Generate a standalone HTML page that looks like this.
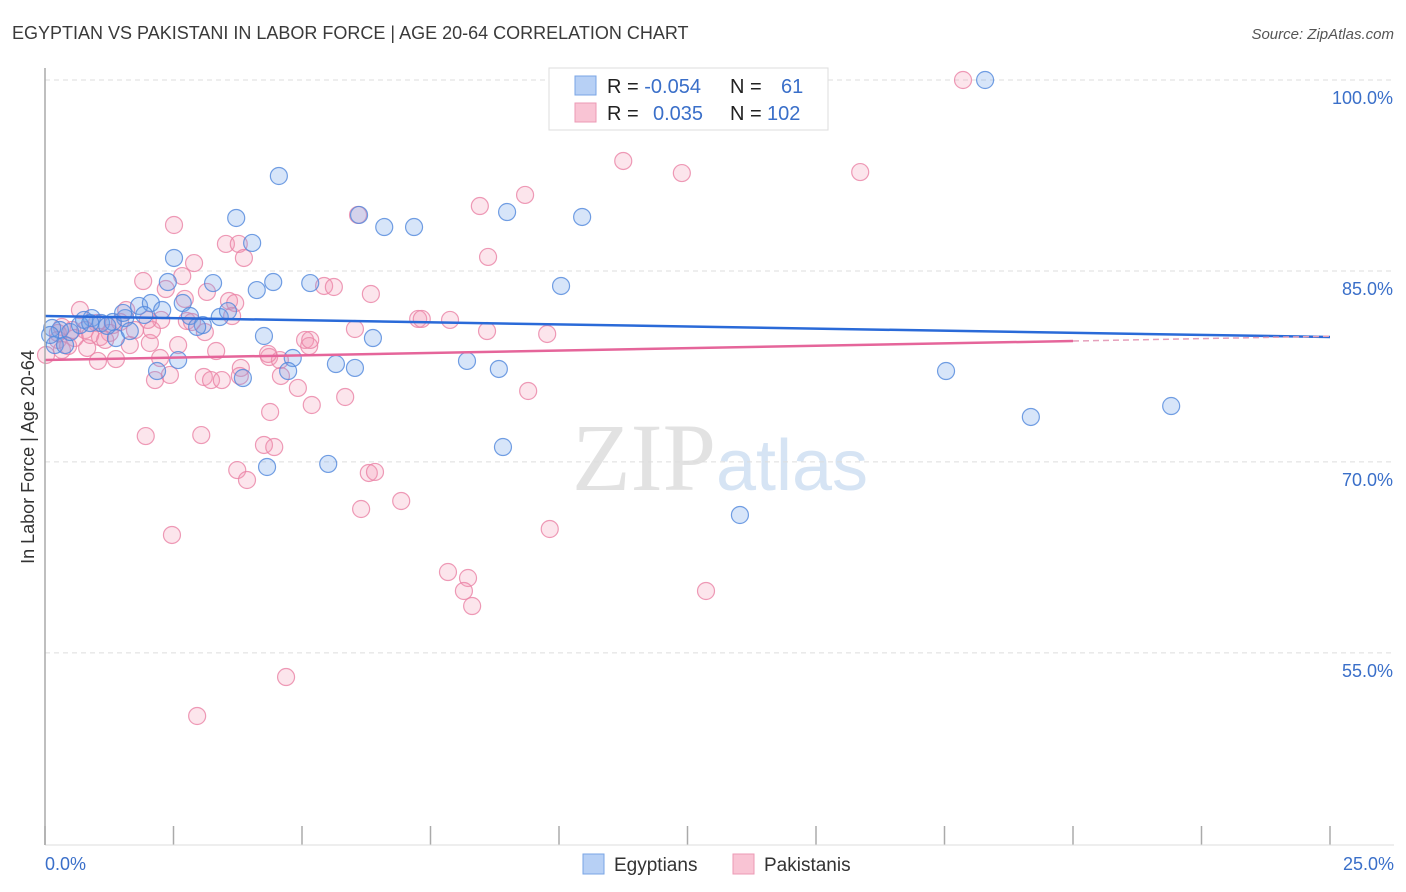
<!DOCTYPE html>
<html><head><meta charset="utf-8"><style>
body{margin:0;background:#fff;font-family:"Liberation Sans",sans-serif}
svg{display:block}
</style></head><body>
<svg id="c" width="1406" height="892" xmlns="http://www.w3.org/2000/svg">
<text x="12" y="39" font-size="18" fill="#3a3a3a">EGYPTIAN VS PAKISTANI IN LABOR FORCE | AGE 20-64 CORRELATION CHART</text>
<text x="1394" y="39" font-size="15" fill="#555" font-style="italic" text-anchor="end">Source: ZipAtlas.com</text>
<text x="720" y="490" font-size="96" fill="#e6e6e6" text-anchor="middle" font-family="Liberation Serif"><tspan fill="#e2e2e2">ZIP</tspan><tspan fill="#d6e4f4" font-family="Liberation Sans" font-size="72">atlas</tspan></text>
<g id="grid"></g>
<g id="pts"></g>
<g id="trend"></g>
<line x1="45" y1="68" x2="45" y2="845" stroke="#aaa" stroke-width="1.5"/>
<text transform="translate(34,457) rotate(-90)" font-size="18" fill="#333" text-anchor="middle">In Labor Force | Age 20-64</text>
<text x="45" y="870" font-size="18" fill="#3a6fc9">0.0%</text>
<text x="1394" y="870" font-size="18" fill="#3a6fc9" text-anchor="end">25.0%</text>
<g>
<rect x="549" y="68" width="279" height="62" fill="#fff" stroke="#ddd"/>
<rect x="575" y="76" width="21" height="19" fill="#b7d0f5" stroke="#7aa5e5"/>
<rect x="575" y="103" width="21" height="19" fill="#f9c4d4" stroke="#ec9ab5"/>
<text x="607" y="93" font-size="20" fill="#222">R = <tspan fill="#3a6fc9">-0.054</tspan><tspan x="730">N =</tspan><tspan x="781" fill="#3a6fc9">61</tspan></text>
<text x="607" y="120" font-size="20" fill="#222">R = <tspan x="653" fill="#3a6fc9">0.035</tspan><tspan x="730">N =</tspan><tspan x="767" fill="#3a6fc9">102</tspan></text>
</g>
<g>
<rect x="583" y="854" width="21" height="20" fill="#b7d0f5" stroke="#7aa5e5"/>
<text x="614" y="871" font-size="19" fill="#333">Egyptians</text>
<rect x="733" y="854" width="21" height="20" fill="#f9c4d4" stroke="#ec9ab5"/>
<text x="764" y="871" font-size="19" fill="#333">Pakistanis</text>
</g>
</svg>
<script>
const yTicks=[100,85,70,55];
const yTickLabels=["100.0%","85.0%","70.0%","55.0%"];
const xTicks=[0,2.5,5,7.5,10,12.5,15,17.5,20,22.5,25];
const egyX=[18.29,4.55,3.72,6.11,6.60,7.18,8.99,10.45,4.03,2.51,2.39,3.27,4.12,4.44,5.16,10.04,1.83,2.06,2.68,2.28,1.56,1.93,2.82,3.40,3.56,0.91,0.76,1.09,1.32,3.07,2.96,4.26,6.38,1.38,0.29,0.19,0.39,1.65,2.59,4.82,5.66,6.03,3.85,4.73,8.21,8.83,2.18,17.53,21.91,19.18,8.91,4.32,5.51,13.52,0.14,0.49,0.10,0.68,1.21,0.88,1.52];
const egyY=[100,92.46,89.16,89.40,88.45,88.45,89.63,89.24,87.20,86.02,84.13,84.05,83.50,84.13,84.05,83.82,82.25,82.48,82.48,81.93,81.30,81.54,81.46,81.38,81.85,81.30,81.15,80.91,80.99,80.75,80.60,79.89,79.73,79.73,80.36,79.18,79.18,80.28,78.00,78.16,77.69,77.38,76.59,77.14,77.93,77.30,77.14,77.14,74.39,73.53,71.17,69.60,69.84,65.83,80.52,80.20,79.97,80.75,80.68,80.91,81.70];
const pakX=[17.86,11.25,12.39,15.86,9.34,8.46,6.09,2.51,3.52,3.77,3.87,8.62,2.90,2.67,1.91,2.35,3.15,3.58,2.72,5.43,5.62,6.34,7.26,7.33,8.60,9.77,6.03,3.64,2.26,1.58,1.32,1.75,1.01,0.78,1.26,0.53,0.33,0.25,0.02,0.82,1.07,1.65,2.04,3.11,2.76,2.08,2.59,5.06,5.14,3.33,4.36,4.57,2.24,1.38,1.03,2.43,2.14,3.09,3.23,3.44,3.81,4.59,4.92,5.19,5.84,4.38,9.40,1.96,3.04,4.26,4.46,3.74,3.93,6.30,6.42,6.93,6.15,9.82,2.47,7.84,8.23,8.15,8.31,12.86,4.69,2.96,0.68,3.79,2.00,2.86,4.34,0.25,0.58,0.45,1.46,0.88,1.17,0.33,5.16,3.70,7.88];
const pakY=[100,93.64,92.69,92.77,90.97,90.10,89.40,88.61,87.12,87.12,86.02,86.10,85.62,84.60,84.21,83.58,83.35,82.64,82.80,83.82,83.74,83.19,81.23,81.23,80.28,80.05,80.44,81.46,81.15,81.93,80.75,80.36,80.91,80.36,80.13,80.36,80.60,79.58,78.40,78.95,79.81,79.18,79.34,80.20,81.07,80.36,79.18,79.58,79.10,78.71,78.24,78.00,78.16,78.08,77.93,76.83,76.43,76.67,76.43,76.43,77.38,76.75,75.81,74.47,75.10,73.92,75.57,72.03,72.11,71.33,71.17,69.36,68.58,69.13,69.21,66.93,66.30,64.73,64.26,61.35,60.88,59.86,58.68,59.86,53.10,50.04,81.93,76.75,81.15,80.99,78.48,80.13,79.73,79.10,80.99,79.97,79.58,78.79,79.58,82.48,81.15];
const trendEgy=[81.46,79.81];
const trendPak=[78.0,79.87];
const trendPakSolidEnd=20;
const NS="http://www.w3.org/2000/svg";
const xs=v=>45+v/25*1285;
const ys=v=>80+(100-v)*12.73;
function mk(tag,attrs,parent){const e=document.createElementNS(NS,tag);for(const k in attrs)e.setAttribute(k,attrs[k]);parent.appendChild(e);return e;}
const grid=document.getElementById('grid');
yTicks.forEach((t,i)=>{
 const l=mk('line',{x1:45,x2:1394,y1:ys(t),y2:ys(t),stroke:'#ddd','stroke-dasharray':'5,4'},grid);
 
 
 const tx=mk('text',{x:1393,y:ys(t)+24,'font-size':18,fill:'#3a6fc9','text-anchor':'end'},grid);
 tx.textContent=yTickLabels[i];
 
 
});
xTicks.forEach(t=>{
 const l=mk('line',{x1:xs(t),x2:xs(t),y1:826,y2:845,stroke:'#aaa','stroke-width':1.5},grid);
 
 
});
const bl=mk('line',{x1:45,x2:1394,y1:845,y2:845,stroke:'#ddd'},grid);


const pts=document.getElementById('pts');
pakX.forEach((x,i)=>{
 const c=mk('circle',{cx:xs(x),cy:ys(pakY[i]),r:8.5,fill:'rgba(242,150,180,0.25)',stroke:'rgba(234,130,165,0.8)','stroke-width':1.2},pts);
 
 
});
egyX.forEach((x,i)=>{
 const c=mk('circle',{cx:xs(x),cy:ys(egyY[i]),r:8.5,fill:'rgba(110,160,235,0.28)',stroke:'rgba(80,135,220,0.8)','stroke-width':1.2},pts);
 
 
});
const tr=document.getElementById('trend');
const te=mk('line',{x1:xs(0),y1:ys(trendEgy[0]),x2:xs(25),y2:ys(trendEgy[1]),stroke:'#2a6ad8','stroke-width':2.5},tr);


const pm=trendPak[0]+(trendPak[1]-trendPak[0])*trendPakSolidEnd/25;
const tp=mk('line',{x1:xs(0),y1:ys(trendPak[0]),x2:xs(trendPakSolidEnd),y2:ys(pm),stroke:'#e5659a','stroke-width':2.5},tr);


const td=mk('line',{x1:xs(trendPakSolidEnd),y1:ys(pm),x2:xs(25),y2:ys(trendPak[1]),stroke:'#e5a0bb','stroke-width':1.5,'stroke-dasharray':'6,4'},tr);


</script>
</body></html>
